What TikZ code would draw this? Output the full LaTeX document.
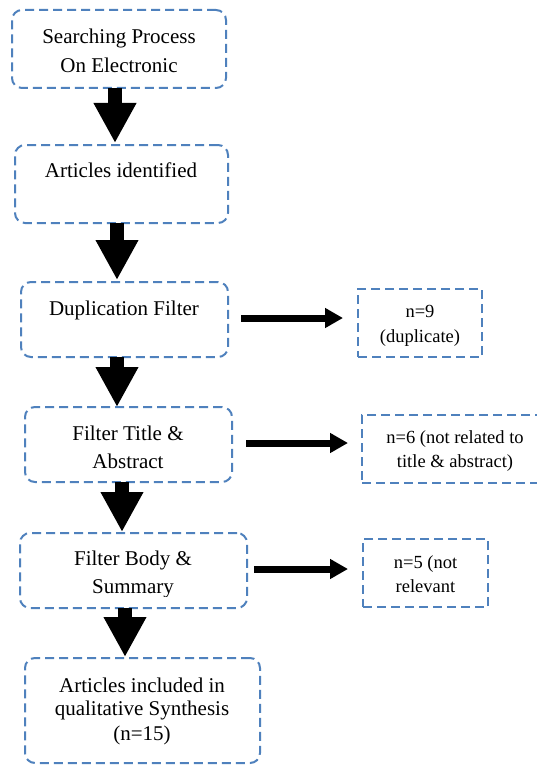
\documentclass[tikz,border=0pt]{standalone}
\usepackage{fontspec}
\setmainfont{Liberation Serif}
\usetikzlibrary{arrows.meta,calc}
\definecolor{boxblue}{RGB}{79,129,189}
\begin{document}
\begin{tikzpicture}[x=1pt,y=-1pt,
  mainbox/.style={draw=boxblue, line width=2pt, dash pattern=on 9pt off 5pt, rounded corners=10pt, inner sep=0pt, outer sep=0pt},
  sidebox/.style={draw=boxblue, line width=2pt, dash pattern=on 9pt off 5pt, inner sep=0pt, outer sep=0pt},
  maintxt/.style={font=\fontsize{21}{25}\selectfont, inner sep=0pt, anchor=base},
  sidetxt/.style={font=\fontsize{18.5}{22}\selectfont, inner sep=0pt, anchor=base},
  bigarrow/.style={line width=14pt, line cap=butt, -{Triangle[length=40pt,width=40pt]}},
  sidearrow/.style={line width=7pt, line cap=butt, -{Triangle[length=18pt,width=19pt]}}]
\clip (0,0) rectangle (537,765);
\fill[white] (0,0) rectangle (537,765);
% main boxes
\node[mainbox, minimum width=214pt, minimum height=78pt] (b1) at (119,49) {};
\node[mainbox, minimum width=213pt, minimum height=78pt] (b2) at (121.5,184) {};
\node[mainbox, minimum width=207pt, minimum height=75pt] (b3) at (124.5,319.5) {};
\node[mainbox, minimum width=207pt, minimum height=75pt] (b4) at (128.5,444.5) {};
\node[mainbox, minimum width=227pt, minimum height=75pt] (b5) at (133.5,570.5) {};
\node[mainbox, minimum width=235pt, minimum height=105pt] (b6) at (142.5,710.5) {};
% side boxes
\node[sidebox, minimum width=124pt, minimum height=68pt] (s1) at (420,323) {};
\node[sidebox, minimum width=183pt, minimum height=68pt] (s2) at (453.5,449) {};
\node[sidebox, minimum width=125pt, minimum height=68pt] (s3) at (425.5,573) {};
% texts
\node[maintxt] (t1a) at (119,44) {Searching Process};
\node[maintxt] (t1b) at (119,73) {On Electronic};
\node[maintxt] (t2) at (121,177) {Articles identified};
\node[maintxt] (t3) at (124,315) {Duplication Filter};
\node[maintxt] (t4a) at (128,440) {Filter Title \&};
\node[maintxt] (t4b) at (128,468) {Abstract};
\node[maintxt] (t5a) at (133,565) {Filter Body \&};
\begin{scope}
\clip (20,533) rectangle (247,596);
\node[maintxt] (t5b) at (133,593) {Summary};
\end{scope}
\node[maintxt] (t6a) at (142,692) {Articles included in};
\node[maintxt] (t6b) at (142,715) {qualitative Synthesis};
\node[maintxt] (t6c) at (142,740) {(n=15)};
\node[sidetxt] (u1a) at (420,317) {n=9};
\node[sidetxt] (u1b) at (420,342) {(duplicate)};
\node[sidetxt] (u2a) at (455,443) {n=6 (not related to};
\node[sidetxt] (u2b) at (455,467) {title \& abstract)};
\node[sidetxt] (u3a) at (425.5,568) {n=5 (not};
\node[sidetxt] (u3b) at (425.5,592) {relevant};
% vertical arrows
\coordinate (v1) at (115,0);
\coordinate (v2) at (117,0);
\coordinate (v3) at (117,0);
\coordinate (v4) at (122,0);
\coordinate (v5) at (125,0);
\draw[bigarrow] (v1 |- b1.south) -- ($(v1 |- b2.north)+(0,-2)$);
\draw[bigarrow] (v2 |- b2.south) -- ($(v2 |- b3.north)+(0,-2)$);
\draw[bigarrow] (v3 |- b3.south) -- ($(v3 |- b4.north)+(0,0)$);
\draw[bigarrow] (v4 |- b4.south) -- ($(v4 |- b5.north)+(0,-1)$);
\draw[bigarrow] (v5 |- b5.south) -- ($(v5 |- b6.north)+(0,-1)$);
% side arrows
\draw[sidearrow] ($(b3.east)+(13,-1.5)$) -- ($(s1.west |- b3.east)+(-15,-1.5)$);
\draw[sidearrow] ($(b4.east)+(14,-1.5)$) -- ($(s2.west |- b4.east)+(-14,-1.5)$);
\draw[sidearrow] ($(b5.east)+(7,-1.5)$) -- ($(s3.west |- b5.east)+(-15,-1.5)$);
\end{tikzpicture}
\end{document}
